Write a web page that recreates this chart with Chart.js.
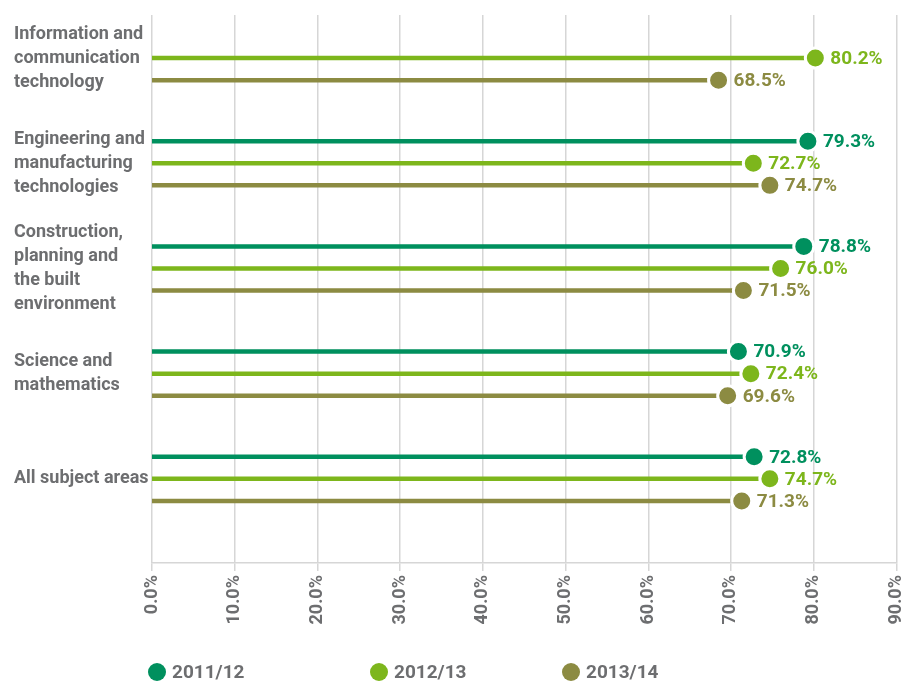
<!DOCTYPE html>
<html>
<head>
<meta charset="utf-8">
<script src="https://cdn.jsdelivr.net/npm/chart.js@4"></script>
<style>
    body { margin: 0; background: #fff; }
</style>
</head>
<body>
<canvas id="myChart" width="922" height="684"></canvas>
<script>
const categories = [
    ["Information and", "communication", "technology"],
    ["Engineering and", "manufacturing", "technologies"],
    ["Construction,", "planning and", "the built", "environment"],
    ["Science and", "mathematics"],
    ["All subject areas"]
];
const seriesNames = ["2011/12", "2012/13", "2013/14"];
const values2011 = [null, 79.3, 78.8, 70.9, 72.8];
const values2012 = [80.2, 72.7, 76.0, 72.4, 74.7];
const values2013 = [68.5, 74.7, 71.5, 69.6, 71.3];
const xTicks = [0, 10, 20, 30, 40, 50, 60, 70, 80, 90];

const colors = ["#00905e", "#7db61c", "#8c8b42"];
const textGray = "#6d6e70";
const fontFamily = 'Roboto, "Liberation Sans", sans-serif';

// each group: stick start, stick end (dot), gap
function lollipop(values, s) {
    let pts = [];
    values.forEach((v, g) => {
        let y = g + (s - 1) * 0.21;
        if (v === null) {
            pts.push({x: null, y: null}, {x: null, y: null}, {x: null, y: null});
            return;
        }
        pts.push({x: 0, y: y}, {x: v, y: y}, {x: null, y: null});
    });
    return pts;
}

const allValues = [values2011, values2012, values2013];

const datasets = allValues.map((vals, s) => ({
    label: seriesNames[s],
    data: lollipop(vals, s),
    showLine: true,
    spanGaps: false,
    borderColor: colors[s],
    borderWidth: 4.5,
    borderCapStyle: "butt",
    pointRadius: ctx => ctx.dataIndex % 3 === 1 ? 10 : 0,
    pointHoverRadius: ctx => ctx.dataIndex % 3 === 1 ? 10 : 0,
    pointBackgroundColor: colors[s],
    pointBorderColor: "#fff",
    pointBorderWidth: 3,
}));

const valueLabels = {
    id: "valueLabels",
    afterDatasetsDraw(chart) {
        const ctx = chart.ctx;
        ctx.save();
        ctx.font = "bold 19px " + fontFamily;
        ctx.textBaseline = "middle";
        ctx.textAlign = "left";
        chart.data.datasets.forEach((ds, s) => {
            let meta = chart.getDatasetMeta(s);
            allValues[s].forEach((v, g) => {
                if (v === null) return;
                let el = meta.data[g * 3 + 1];
                ctx.fillStyle = colors[s];
                ctx.fillText(v.toFixed(1) + "%", el.x + 15, el.y + 1);
            });
        });
        ctx.restore();
    }
};

const bottomLegend = {
    id: "bottomLegend",
    afterDraw(chart) {
        const ctx = chart.ctx;
        const xs = [157, 379, 571];
        const y = 672;
        ctx.save();
        ctx.font = "bold 19px " + fontFamily;
        ctx.textBaseline = "middle";
        ctx.textAlign = "left";
        seriesNames.forEach((name, i) => {
            ctx.fillStyle = colors[i];
            ctx.beginPath();
            ctx.arc(xs[i], y, 9, 0, Math.PI * 2);
            ctx.fill();
            ctx.fillStyle = textGray;
            ctx.fillText(name, xs[i] + 15, y + 1);
        });
        ctx.restore();
    }
};

const ctx = document.getElementById("myChart");
const chart = new Chart(ctx, {
    type: "scatter",
    data: { datasets: datasets },
    options: {
        responsive: false,
        animation: false,
        layout: { padding: { left: 14, top: 10, right: 13, bottom: 0 } },
        plugins: {
            legend: { display: false },
            tooltip: { enabled: false },
        },
        scales: {
            x: {
                type: "linear",
                min: 0,
                max: 90,
                afterBuildTicks(scale) {
                    scale.ticks = xTicks.map(v => ({value: v}));
                },
                afterFit(scale) {
                    scale.height = 121;
                },
                grid: {
                    color: "#d6d6d6",
                    lineWidth: 1.5,
                    tickLength: 8,
                },
                border: { color: "#d6d6d6", width: 1.5 },
                ticks: {
                    callback: v => v.toFixed(1) + "%",
                    minRotation: 90,
                    maxRotation: 90,
                    padding: 4,
                    color: textGray,
                    font: { family: fontFamily, size: 18, weight: "bold" },
                },
            },
            y: {
                type: "linear",
                reverse: true,
                min: -0.41,
                max: 4.8,
                afterBuildTicks(scale) {
                    scale.ticks = categories.map((c, i) => ({value: i}));
                },
                afterFit(scale) {
                    scale.width = 138;
                },
                grid: { display: false },
                border: { display: false },
                ticks: {
                    autoSkip: false,
                    crossAlign: "far",
                    callback: v => categories[v],
                    color: textGray,
                    font: { family: fontFamily, size: 18, weight: "bold", lineHeight: 1.33 },
                },
            },
        },
    },
    plugins: [valueLabels, bottomLegend],
});
</script>
</body>
</html>
